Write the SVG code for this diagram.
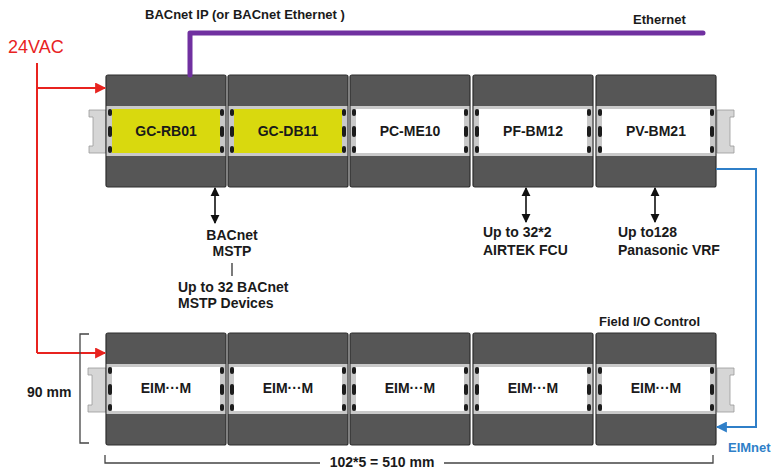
<svg xmlns="http://www.w3.org/2000/svg" width="771" height="470" viewBox="0 0 771 470">
<defs>
<style>
text{font-family:"Liberation Sans",Arial,sans-serif;font-weight:bold;font-size:14px;fill:#1a1a1a}
.body{fill:#565656;stroke:#2e2e2e;stroke-width:1.2}
.band{fill:#c9c9c9}
.panel{fill:#ffffff}
.yel{fill:#d9d90e}
.clip{fill:#1c1c1c}
.rail{fill:#d6d6d6;stroke:#9a9a9a;stroke-width:0.8}
.lbl{text-anchor:middle}
.dim{fill:none;stroke:#444;stroke-width:1.3}
.dbl{stroke:#111;stroke-width:1.6;fill:none;marker-start:url(#ak);marker-end:url(#ak)}
</style>
<marker id="ak" viewBox="0 0 10 10" refX="9" refY="5" markerWidth="9" markerHeight="10" markerUnits="userSpaceOnUse" orient="auto-start-reverse"><path d="M0,0 L10,5 L0,10 Z" fill="#111"/></marker>
<marker id="ar" viewBox="0 0 10 10" refX="9" refY="5" markerWidth="12" markerHeight="11" markerUnits="userSpaceOnUse" orient="auto"><path d="M0,0 L10,5 L0,10 Z" fill="#e8231f"/></marker>
<marker id="ab" viewBox="0 0 10 10" refX="9" refY="5" markerWidth="12" markerHeight="11" markerUnits="userSpaceOnUse" orient="auto"><path d="M0,0 L10,5 L0,10 Z" fill="#2f7fc8"/></marker>
<g id="modtop">
<rect class="body" x="0" y="0" width="120" height="112" rx="2"/>
<rect class="band" x="0.6" y="31" width="118.8" height="50"/>
<rect class="clip" x="2" y="34" width="4" height="7" rx="2"/>
<rect class="clip" x="2" y="51" width="4" height="11" rx="2"/>
<rect class="clip" x="2" y="71" width="4" height="7" rx="2"/>
<rect class="clip" x="114" y="34" width="4" height="7" rx="2"/>
<rect class="clip" x="114" y="51" width="4" height="11" rx="2"/>
<rect class="clip" x="114" y="71" width="4" height="7" rx="2"/>
</g>
</defs>
<rect width="771" height="470" fill="#ffffff"/>

<g id="din-rails">
<path class="rail" d="M89,110 H106 V153 H89 V146 H93 V117 H89 Z"/>
<path class="rail" d="M734,110 H717 V153 H734 V146 H730 V117 H734 Z"/>
<path class="rail" d="M88,368 H106 V412 H88 V405 H92 V375 H88 Z"/>
<path class="rail" d="M734,368 H717 V412 H734 V405 H730 V375 H734 Z"/>
</g>

<g id="gc-rb01">
<use href="#modtop" x="106" y="75"/>
<rect class="yel" x="112" y="109" width="108" height="44"/>
<text class="lbl" x="166" y="136">GC-RB01</text>
</g>
<g id="gc-db11">
<use href="#modtop" x="228" y="75"/>
<rect class="yel" x="234" y="109" width="108" height="44"/>
<text class="lbl" x="288" y="136">GC-DB11</text>
</g>
<g id="pc-me10">
<use href="#modtop" x="350" y="75"/>
<rect class="panel" x="356" y="109" width="108" height="44"/>
<text class="lbl" x="410" y="136">PC-ME10</text>
</g>
<g id="pf-bm12">
<use href="#modtop" x="473" y="75"/>
<rect class="panel" x="479" y="109" width="108" height="44"/>
<text class="lbl" x="533" y="136">PF-BM12</text>
</g>
<g id="pv-bm21">
<use href="#modtop" x="596" y="75"/>
<rect class="panel" x="602" y="109" width="108" height="44"/>
<text class="lbl" x="656" y="136">PV-BM21</text>
</g>

<g id="eim-1">
<use href="#modtop" x="106" y="333"/>
<rect class="panel" x="112" y="367" width="108" height="44"/>
<text class="lbl" x="166" y="393">EIM···M</text>
</g>
<g id="eim-2">
<use href="#modtop" x="228" y="333"/>
<rect class="panel" x="234" y="367" width="108" height="44"/>
<text class="lbl" x="288" y="393">EIM···M</text>
</g>
<g id="eim-3">
<use href="#modtop" x="350" y="333"/>
<rect class="panel" x="356" y="367" width="108" height="44"/>
<text class="lbl" x="410" y="393">EIM···M</text>
</g>
<g id="eim-4">
<use href="#modtop" x="473" y="333"/>
<rect class="panel" x="479" y="367" width="108" height="44"/>
<text class="lbl" x="533" y="393">EIM···M</text>
</g>
<g id="eim-5">
<use href="#modtop" x="596" y="333"/>
<rect class="panel" x="602" y="367" width="108" height="44"/>
<text class="lbl" x="656" y="393">EIM···M</text>
</g>

<g id="connectors">
<path d="M37,63 V353" fill="none" stroke="#e8231f" stroke-width="2"/>
<path d="M37,88 H105" fill="none" stroke="#e8231f" stroke-width="2" marker-end="url(#ar)"/>
<path d="M37,353 H105" fill="none" stroke="#e8231f" stroke-width="2" marker-end="url(#ar)"/>
<path d="M190,75 V33 H703" fill="none" stroke="#7030a0" stroke-width="5" stroke-linecap="round" stroke-linejoin="round"/>
<path d="M716,169 H756 V427 H717" fill="none" stroke="#2f7fc8" stroke-width="2" marker-end="url(#ab)"/>
<path class="dbl" d="M215,188 V223"/>
<path class="dbl" d="M526,188 V222"/>
<path class="dbl" d="M655,188 V222"/>
<path d="M232,263 V276" stroke="#333" stroke-width="1.3"/>
</g>

<g id="labels">
<text x="8" y="53" style="font-weight:normal;font-size:18px;fill:#e8231f">24VAC</text>
<text x="145" y="19" style="font-size:13px">BACnet IP (or BACnet Ethernet )</text>
<text x="633" y="24" style="font-size:13px">Ethernet</text>
<text class="lbl" x="232" y="240">BACnet</text>
<text class="lbl" x="232" y="256">MSTP</text>
<text x="178" y="292">Up to 32 BACnet</text>
<text x="178" y="308">MSTP Devices</text>
<text x="483" y="237">Up to 32*2</text>
<text x="483" y="255">AIRTEK FCU</text>
<text x="618" y="237">Up to128</text>
<text x="618" y="255">Panasonic VRF</text>
<text x="599" y="326" style="font-size:13px">Field I/O Control</text>
<text x="27" y="397">90 mm</text>
<text x="728" y="452" style="font-size:13px;fill:#2f7fc8">EIMnet</text>
<text class="lbl" x="382" y="467">102*5 = 510 mm</text>
</g>

<g id="dimensions">
<path class="dim" d="M89,334 H80 V443 H89"/>
<path class="dim" d="M105,455 V463 H320 M444,463 H713 V455"/>
</g>
</svg>
